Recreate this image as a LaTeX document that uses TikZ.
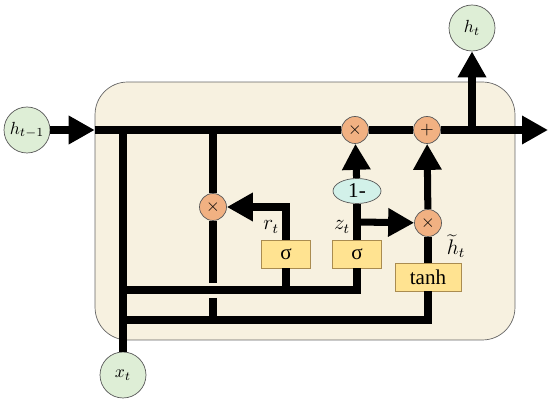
\documentclass[tikz,border=0pt]{standalone}
\usepackage{fontspec}
\setmainfont{Liberation Serif}
\usepackage{tikz}
\usetikzlibrary{arrows.meta, shapes.geometric}

\definecolor{cellbg}{RGB}{247,241,224}
\definecolor{iofill}{RGB}{222,238,214}
\definecolor{opfill}{RGB}{241,177,130}
\definecolor{gatefill}{RGB}{255,227,145}
\definecolor{gatedraw}{RGB}{170,140,80}
\definecolor{negfill}{RGB}{210,241,233}

\begin{document}
\begin{tikzpicture}[x=0.02cm, y=-0.02cm,
  cell/.style={draw=black!60, thin, fill=cellbg, rounded corners=0.65cm,
    minimum width=8.4cm, minimum height=5.16cm},
  flow/.style={line width=4pt},
  arr/.style={line width=4pt, -{Triangle[length=0.52cm, width=0.54cm]}},
  io/.style={circle, draw=black!65, thin, fill=iofill, minimum size=0.92cm, inner sep=0pt},
  op/.style={circle, draw=black!65, thin, fill=opfill, minimum size=0.54cm, inner sep=0pt},
  gate/.style={draw=gatedraw, thin, fill=gatefill, minimum width=0.98cm,
    minimum height=0.56cm, inner sep=0pt, font=\fontsize{12}{14}\selectfont},
  neg/.style={ellipse, draw=black!65, thin, fill=negfill, minimum width=0.96cm,
    minimum height=0.5cm, inner sep=0pt, font=\fontsize{12}{14}\selectfont},
  lbl/.style={font=\large, inner sep=1pt},
]
\useasboundingbox (0,0) rectangle (550,404);

% ── cell body ────────────────────────────────────────────────────────────────
\node[cell] (cell) at (305,211) {};

% ── inputs / output ──────────────────────────────────────────────────────────
\node[io] (ht1) at (27,130) {$h_{t-1}$};
\node[io] (ht)  at (472,28) {$h_t$};
\node[io] (xt)  at (123,375) {$x_t$};

% ── operators and gates ──────────────────────────────────────────────────────
\node[op] (mulz) at (355,130) {$\times$};
\node[op] (plus) at (427,130) {$+$};
\node[op] (mulr) at (213,207) {$\times$};
\node[op] (mulh) at (428,223) {$\times$};
\node[neg] (oneminus) at (357,191) {1-};
\node[gate] (sigr) at (286,254) {σ};
\node[gate] (sigz) at (357,254) {σ};
\node[gate, minimum width=1.32cm] (tanhb) at (428,277) {tanh};

\coordinate (jin)  at (123,130);
\coordinate (jout) at (472,130);
\coordinate (hend) at (548,130);
\coordinate (jr)   at (213,130);
\coordinate (zt)   at (357,222);
\coordinate (row1) at (123,290);
\coordinate (row2) at (123,320);
\coordinate (hopa) at (213,283);
\coordinate (hopb) at (213,298);

% ── hidden state line ────────────────────────────────────────────────────────
\draw[arr] (ht1) -- (ht1 -| cell.west);
\draw[flow] (ht1 -| cell.west) -- (mulz);
\draw[flow] (mulz) -- (plus);
\draw[arr] (plus) -- (hend);
\draw[arr] (jout) -- (ht);

% ── input line and its branches ──────────────────────────────────────────────
\draw[flow] (xt) -- (jin);
\draw[flow] (row1) -| (sigz);
\draw[flow] (sigr) -- (sigr |- row1);
\draw[flow] (row2) -| (tanhb);

% ── reset path (hop over the gate line) ──────────────────────────────────────
\draw[flow] (jr) -- (mulr);
\draw[flow] (mulr) -- (hopa);
\draw[flow] (hopb) -- (hopb |- row2);
\draw[arr] (sigr) |- (mulr);
\node[lbl, anchor=east] at (281,227) {$r_t$};

% ── update path ──────────────────────────────────────────────────────────────
\draw[flow] (sigz) -- (oneminus);
\draw[arr] (oneminus) -- (mulz);
\draw[arr] (zt) -- (mulh);
\node[lbl, anchor=east] at (352,227) {$z_t$};
\draw[flow] (tanhb) -- (mulh);
\draw[arr] (mulh) -- (plus);
\node[lbl, inner sep=0pt] at (456,246) {$\widetilde{h}_t$};

\end{tikzpicture}
\end{document}
